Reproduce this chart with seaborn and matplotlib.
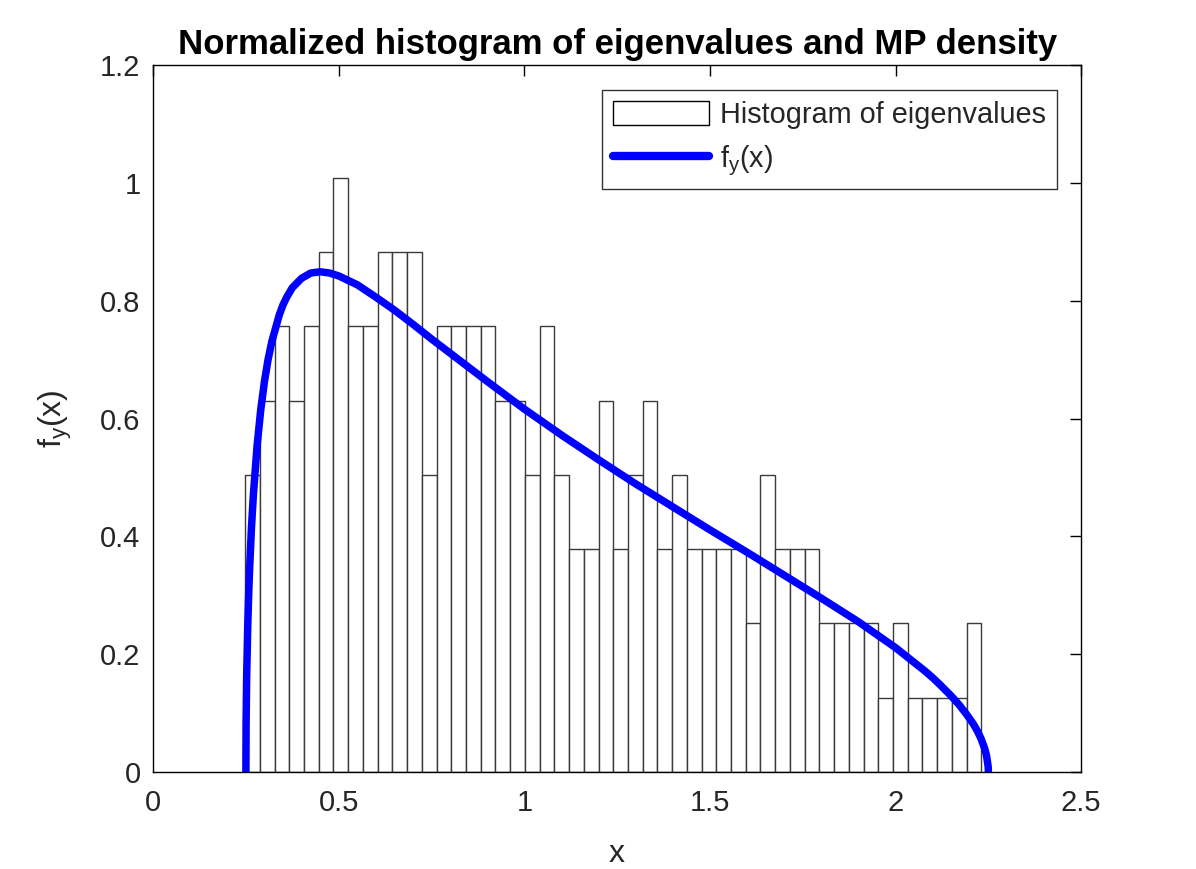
import numpy as np
import pandas as pd
import matplotlib
matplotlib.use("Agg")
import matplotlib.pyplot as plt
import seaborn as sns
from matplotlib.patches import Patch
from matplotlib.lines import Line2D

# ---- data ----
n_eigenvalues = 200
bin_start = 0.248
bin_width = 0.03966
bin_counts = [4, 5, 6, 5, 6, 7, 8, 6, 6, 7,
              7, 7, 4, 6, 6, 6, 6, 5, 5, 4,
              6, 4, 3, 3, 5, 3, 4, 5, 3, 4,
              3, 3, 3, 3, 2, 4, 3, 3, 3, 2,
              2, 2, 2, 1, 2, 1, 1, 1, 1, 2]

mp_x = [0.25, 0.2505, 0.252, 0.255, 0.258, 0.26, 0.265, 0.27, 0.28, 0.29,
        0.30, 0.31, 0.32, 0.34, 0.35, 0.36, 0.375, 0.40, 0.425, 0.45,
        0.475, 0.50, 0.55, 0.60, 0.65, 0.70, 0.75, 0.80, 0.90, 1.00,
        1.10, 1.20, 1.30, 1.40, 1.50, 1.60, 1.70, 1.80, 1.90, 1.95,
        2.00, 2.05, 2.08, 2.10, 2.12, 2.15, 2.17, 2.18, 2.19, 2.20,
        2.21, 2.22, 2.23, 2.24, 2.245, 2.2495, 2.25]
mp_y = [0.0, 0.080, 0.160, 0.249, 0.312, 0.345, 0.415, 0.469, 0.553, 0.615,
        0.663, 0.701, 0.731, 0.776, 0.793, 0.806, 0.822, 0.838, 0.847, 0.849,
        0.847, 0.842, 0.827, 0.806, 0.784, 0.760, 0.735, 0.711, 0.663, 0.616,
        0.572, 0.530, 0.489, 0.450, 0.411, 0.373, 0.334, 0.295, 0.255, 0.233,
        0.211, 0.186, 0.171, 0.160, 0.148, 0.129, 0.115, 0.107, 0.099, 0.090,
        0.081, 0.070, 0.057, 0.040, 0.028, 0.009, 0.0]

x_ticks = [0, 0.5, 1, 1.5, 2, 2.5]
y_ticks = [0, 0.2, 0.4, 0.6, 0.8, 1, 1.2]
x_tick_labels = ["0", "0.5", "1", "1.5", "2", "2.5"]
y_tick_labels = ["0", "0.2", "0.4", "0.6", "0.8", "1", "1.2"]

# ---- build tables ----
n_bins = len(bin_counts)
edges = [float(bin_start + bin_width * i) for i in range(n_bins + 1)]
centers = [(edges[i] + edges[i + 1]) / 2 for i in range(n_bins)]
hist_df = pd.DataFrame({"x": centers, "count": [float(c) for c in bin_counts]})
curve_df = pd.DataFrame({"x": mp_x, "y": mp_y})

sns.set_theme(style="white")
plt.rcParams["font.family"] = ["Liberation Sans", "DejaVu Sans"]
plt.rcParams["mathtext.fontset"] = "custom"
plt.rcParams["mathtext.rm"] = "Liberation Sans"
plt.rcParams["mathtext.it"] = "Liberation Sans"

fig = plt.figure(figsize=(11.96, 8.69), dpi=100)
ax = fig.add_axes([0.128, 0.1116, 0.776, 0.8136])

sns.histplot(data=hist_df, x="x", weights="count", bins=edges, stat="density",
             color="white", edgecolor="#3a3a3a", linewidth=1.0, alpha=1.0, ax=ax)
sns.lineplot(data=curve_df, x="x", y="y", color=(0, 0, 1), linewidth=5.4,
             ax=ax, sort=False)
for ln in ax.get_lines():
    ln.set_solid_capstyle("butt")
    ln.set_solid_joinstyle("round")

ax.set_xlim(0, 2.5)
ax.set_ylim(0, 1.2)
ax.set_xticks(x_ticks)
ax.set_xticklabels(x_tick_labels)
ax.set_yticks(y_ticks)
ax.set_yticklabels(y_tick_labels)
ax.tick_params(direction="in", length=8, width=1, top=True, right=True,
               labelsize=21, colors="black")
ax.tick_params(axis="x", labelcolor="#262626", pad=12)
ax.tick_params(axis="y", labelcolor="#262626", pad=9)
for s in ax.spines.values():
    s.set_color("black")
    s.set_linewidth(1.0)

ax.set_xlabel("x", fontsize=23, color="#262626", labelpad=16)
ax.set_ylabel(r"$\mathrm{f_y}$(x)", fontsize=23, color="#262626", labelpad=19)
ax.set_title("Normalized histogram of eigenvalues and MP density",
             fontsize=25, fontweight="bold", color="black", pad=8)

handles = [Patch(facecolor="white", edgecolor="black", linewidth=1.0),
           Line2D([0], [0], color=(0, 0, 1), linewidth=6)]
leg = ax.legend(handles, ["Histogram of eigenvalues", r"$\mathrm{f_y}$(x)"],
                loc="upper right", fontsize=20.8, frameon=True, fancybox=False,
                borderpad=0.38, handlelength=3.3, handleheight=0.9,
                handletextpad=0.4, labelspacing=0.5, borderaxespad=0,
                bbox_to_anchor=(0.974, 0.9646))
leg.get_frame().set_edgecolor("black")
leg.get_frame().set_linewidth(1.0)

fig.savefig("out.png", dpi=100, facecolor="white")
